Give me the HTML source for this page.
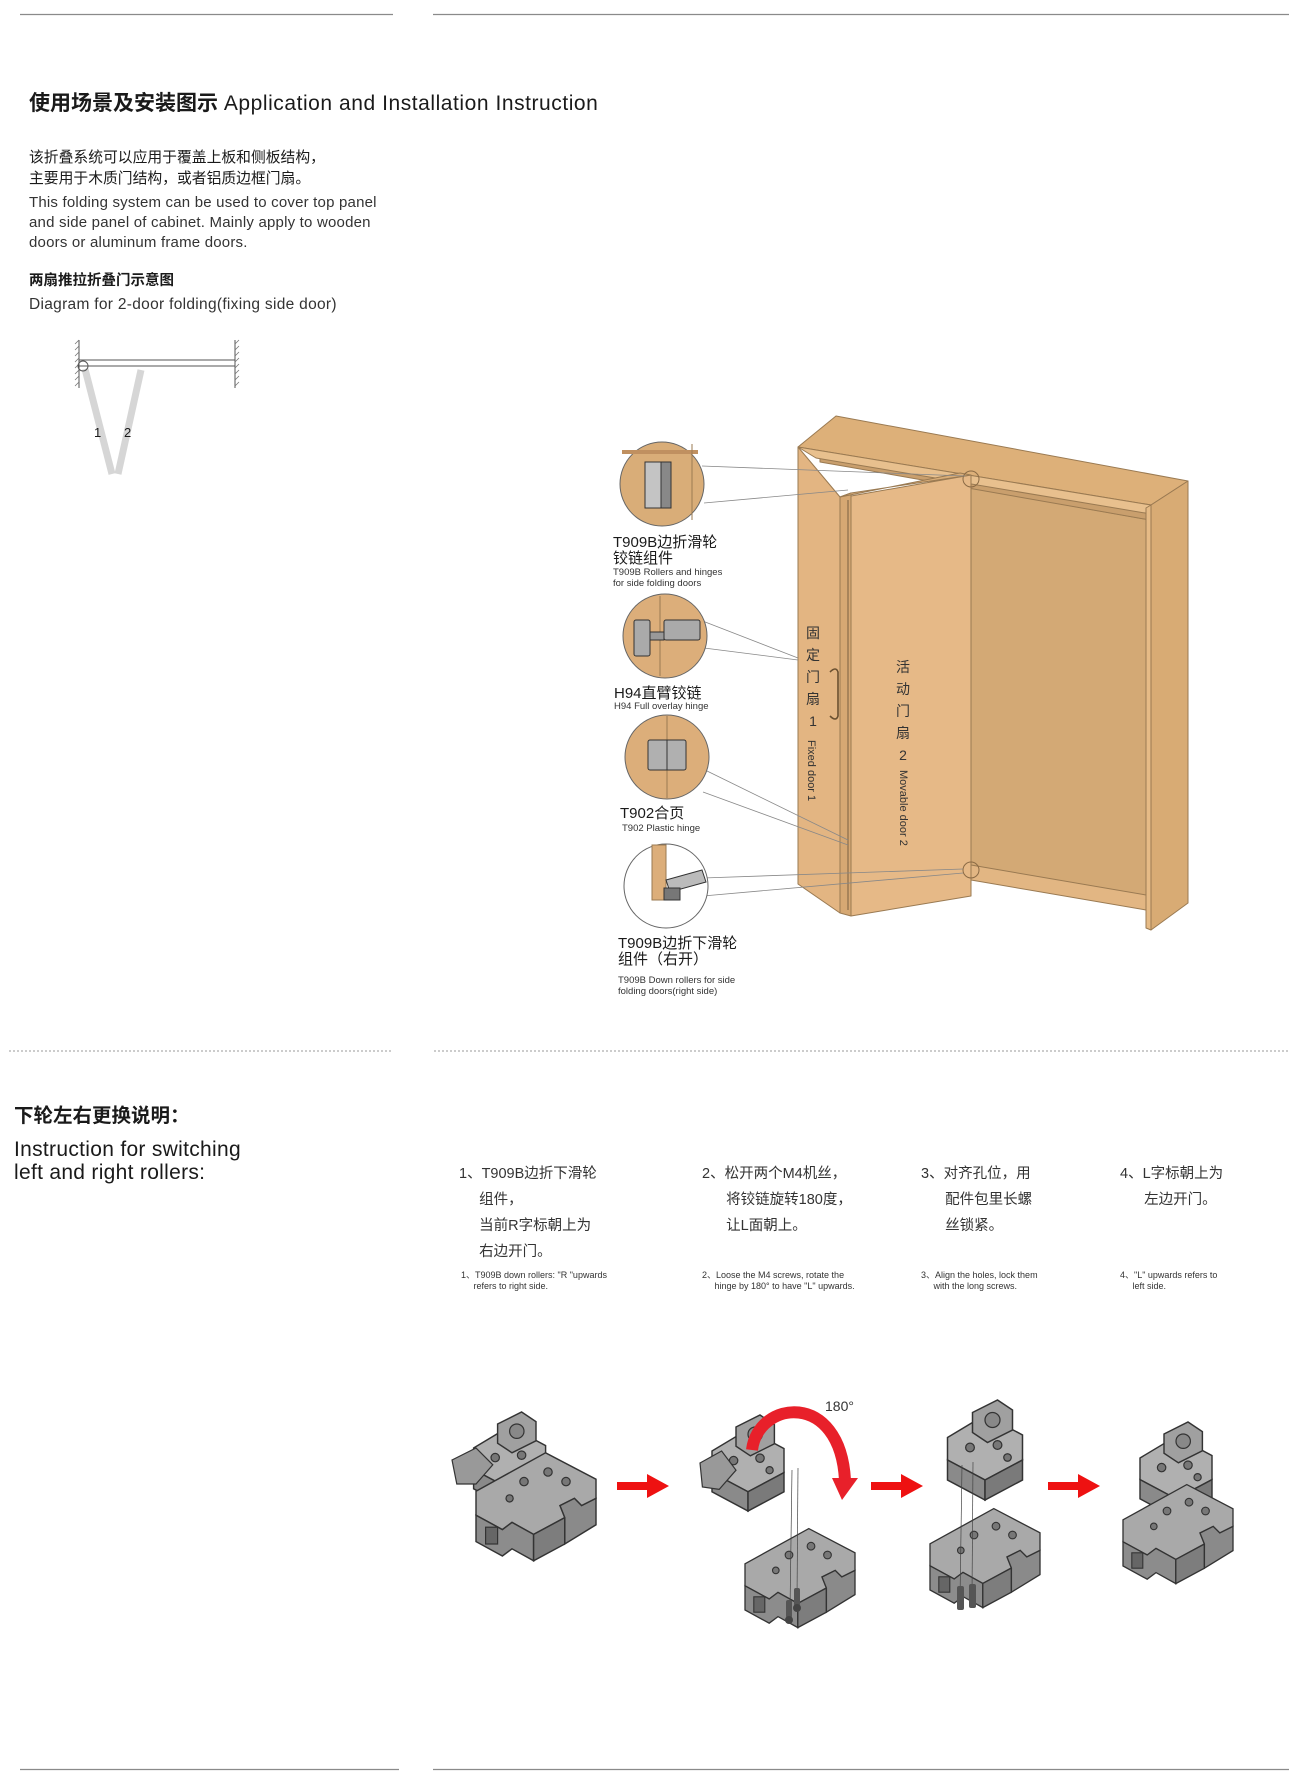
<!DOCTYPE html>
<html><head><meta charset="utf-8"><style>
html,body{margin:0;padding:0;background:#fff;}
body{width:1300px;height:1778px;position:relative;overflow:hidden;font-family:"Liberation Sans","Noto Sans CJK SC",sans-serif;color:#1a1a1a;}
.t{position:absolute;white-space:nowrap;line-height:1;}
svg{position:absolute;left:0;top:0;}
</style></head><body>
<svg width="1300" height="1778" viewBox="0 0 1300 1778">
<defs>
<g id="plate">
 <polygon points="0,38 58,6 100,28 100,44 88,50 82,44 70,50 74,60 48,74 30,64 22,70 0,58" fill="#a9a9a9" stroke="#333" stroke-width="1.2"/>
 <polygon points="0,58 22,70 30,64 48,74 48,96 30,86 22,92 0,80" fill="#8c8c8c" stroke="#333" stroke-width="1.2"/>
 <polygon points="48,74 74,60 74,82 48,96" fill="#7d7d7d" stroke="#333" stroke-width="1.2"/>
 <polygon points="74,60 70,50 82,44 88,50 100,44 100,66 74,82" fill="#8a8a8a" stroke="#333" stroke-width="1.2"/>
 <circle cx="40" cy="30" r="3.5" fill="#777" stroke="#333"/><circle cx="60" cy="22" r="3.5" fill="#777" stroke="#333"/>
 <circle cx="28" cy="44" r="3" fill="#777" stroke="#333"/><circle cx="75" cy="30" r="3.5" fill="#777" stroke="#333"/>
 <rect x="8" y="68" width="10" height="14" fill="#666" stroke="#333"/>
</g>
<g id="hinge">
 <polygon points="10,30 40,12 70,28 70,48 40,64 10,48" fill="#b0b0b0" stroke="#333" stroke-width="1.2"/>
 <polygon points="10,48 40,64 40,80 10,64" fill="#8a8a8a" stroke="#333" stroke-width="1.2"/>
 <polygon points="40,64 70,48 70,64 40,80" fill="#7a7a7a" stroke="#333" stroke-width="1.2"/>
 <polygon points="30,10 50,0 62,8 62,24 42,34 30,26" fill="#a0a0a0" stroke="#333" stroke-width="1.2"/>
 <circle cx="46" cy="16" r="6" fill="#888" stroke="#333"/>
 <circle cx="28" cy="38" r="3.5" fill="#777" stroke="#333"/><circle cx="50" cy="36" r="3.5" fill="#777" stroke="#333"/><circle cx="58" cy="46" r="3" fill="#777" stroke="#333"/>
</g>
<g id="arrow"><polygon points="0,8 30,8 30,0 52,12 30,24 30,16 0,16" fill="#ee1111"/></g>
</defs>

<line x1="20" y1="14.5" x2="393" y2="14.5" stroke="#8a8a8a" stroke-width="1.2"/>
<line x1="433" y1="14.5" x2="1289" y2="14.5" stroke="#8a8a8a" stroke-width="1.2"/>

<g stroke="#555" stroke-width="1">
 <line x1="79" y1="340" x2="79" y2="388"/>
 <line x1="235" y1="340" x2="235" y2="388"/>
 <line x1="79" y1="360" x2="235" y2="360"/>
 <line x1="79" y1="366" x2="235" y2="366"/>
</g>
<g stroke="#777" stroke-width="0.8">
 <path d="M75,344 l4,-4 M75,350 l4,-4 M75,356 l4,-4 M75,362 l4,-4 M75,368 l4,-4 M75,374 l4,-4 M75,380 l4,-4 M75,386 l4,-4"/>
 <path d="M235,344 l4,-4 M235,350 l4,-4 M235,356 l4,-4 M235,362 l4,-4 M235,368 l4,-4 M235,374 l4,-4 M235,380 l4,-4 M235,386 l4,-4"/>
</g>
<line x1="85" y1="369" x2="112" y2="474" stroke="#d6d6d6" stroke-width="7"/>
<line x1="141" y1="370" x2="118" y2="474" stroke="#d6d6d6" stroke-width="7"/>
<circle cx="83" cy="366" r="5" fill="none" stroke="#555"/>

<g stroke="#9a7a52" stroke-width="1" stroke-linejoin="round">
 <polygon points="971,488 1150,520 1150,896 971,872" fill="#d3a975"/>
 <polygon points="820,450 1150,505 1150,520 820,462" fill="#c99f6d"/>
 <polygon points="798,447 836,416 1188,481 1151,505" fill="#ddb079"/>
 <polygon points="798,447 1151,505 1151,514 816,458" fill="#e8c08e"/>
 <polygon points="1151,505 1188,481 1188,903 1151,930" fill="#d8ab74"/>
 <polygon points="1146,508 1151,505 1151,930 1146,928" fill="#e6bb86"/>
 <polygon points="971,865 1146,895 1146,910 971,880" fill="#e2b683"/>
 <polygon points="798,447 840,497 840,913 798,884" fill="#e3b582"/>
 <polygon points="840,497 851,493 851,916 840,913" fill="#d6a873"/>
 <polygon points="851,496 971,475 971,896 851,916" fill="#e6b987"/>
 <polygon points="840,497 851,493 971,475 960,473" fill="#d9ad78"/>
</g>
<line x1="848" y1="500" x2="848" y2="910" stroke="#7a6040" stroke-width="1"/>
<path d="M830,672 q6,-6 8,0 v44 q-2,6 -8,0" fill="none" stroke="#6a5030" stroke-width="1.6"/>
<circle cx="971" cy="479" r="8" fill="none" stroke="#8a6a45"/>
<circle cx="971" cy="870" r="8" fill="none" stroke="#8a6a45"/>

<g stroke="#888" stroke-width="0.8" fill="none">
 <line x1="702" y1="466" x2="965" y2="476"/><line x1="704" y1="503" x2="848" y2="490"/>
 <line x1="700" y1="620" x2="798" y2="658"/><line x1="704" y1="648" x2="798" y2="660"/>
 <line x1="705" y1="770" x2="848" y2="840"/><line x1="703" y1="792" x2="848" y2="845"/>
 <line x1="703" y1="878" x2="963" y2="869"/><line x1="703" y1="896" x2="963" y2="873"/>
</g>
<g stroke="#666" stroke-width="1">
 <circle cx="662" cy="484" r="42" fill="#d9ad78"/>
 <circle cx="665" cy="636" r="42" fill="#dcae7a"/>
 <circle cx="667" cy="757" r="42" fill="#dcae7a"/>
 <circle cx="666" cy="886" r="42" fill="#fff"/>
</g>
<rect x="622" y="450" width="76" height="4" fill="#c09060"/>
<rect x="645" y="462" width="16" height="46" fill="#c4c4c4" stroke="#333"/>
<rect x="661" y="462" width="10" height="46" fill="#888" stroke="#333"/>
<line x1="692" y1="444" x2="692" y2="520" stroke="#9a7a52"/>
<line x1="660" y1="596" x2="660" y2="676" stroke="#9a7a52"/>
<rect x="634" y="620" width="16" height="36" fill="#aaa" stroke="#333" rx="2"/>
<rect x="650" y="632" width="14" height="8" fill="#999" stroke="#333"/>
<rect x="664" y="620" width="36" height="20" fill="#aaa" stroke="#333" rx="2"/>
<line x1="667" y1="716" x2="667" y2="798" stroke="#9a7a52"/>
<rect x="648" y="740" width="38" height="30" fill="#b0b0b0" stroke="#333" rx="2"/>
<line x1="667" y1="740" x2="667" y2="770" stroke="#333"/>
<rect x="652" y="845" width="14" height="55" fill="#dcae7a" stroke="#9a7a52"/>
<polygon points="666,880 702,870 706,882 670,892" fill="#bbb" stroke="#333"/>
<rect x="664" y="888" width="16" height="12" fill="#777" stroke="#333"/>

<line x1="9" y1="1051" x2="393" y2="1051" stroke="#999" stroke-width="1" stroke-dasharray="2,2"/>
<line x1="434" y1="1051" x2="1289" y2="1051" stroke="#999" stroke-width="1" stroke-dasharray="2,2"/>

<g transform="translate(452,1412) scale(1.2)"><use href="#hinge" transform="translate(8,0)"/><use href="#plate" transform="translate(20,28)"/><polygon points="0,40 20,30 34,44 20,60 4,60" fill="#999" stroke="#333"/></g>
<use href="#arrow" transform="translate(617,1474)"/>
<g transform="translate(700,1415) scale(1.2)"><use href="#hinge"/><polygon points="0,40 18,30 30,46 16,62 2,60" fill="#999" stroke="#333"/></g>
<g transform="translate(745,1522) scale(1.1)"><use href="#plate"/></g>
<line x1="792" y1="1470" x2="790" y2="1610" stroke="#444" stroke-width="0.7"/>
<line x1="798" y1="1468" x2="797" y2="1600" stroke="#444" stroke-width="0.7"/>
<rect x="786" y="1600" width="6" height="18" fill="#555" rx="2"/><rect x="794" y="1588" width="6" height="18" fill="#555" rx="2"/>
<circle cx="789" cy="1620" r="4" fill="#444"/><circle cx="797" cy="1608" r="4" fill="#444"/>
<path d="M752,1450 C758,1400 840,1390 845,1480" fill="none" stroke="#e8202a" stroke-width="12"/>
<polygon points="832,1478 858,1478 842,1500" fill="#e8202a"/>
<use href="#arrow" transform="translate(871,1474)"/>
<g transform="translate(935,1400) scale(1.25)"><use href="#hinge"/></g>
<g transform="translate(930,1502) scale(1.1)"><use href="#plate"/></g>
<line x1="962" y1="1465" x2="960" y2="1600" stroke="#444" stroke-width="0.7"/>
<line x1="973" y1="1462" x2="972" y2="1595" stroke="#444" stroke-width="0.7"/>
<rect x="957" y="1586" width="7" height="24" fill="#555" rx="2"/><rect x="969" y="1584" width="7" height="24" fill="#555" rx="2"/>
<use href="#arrow" transform="translate(1048,1474)"/>
<g transform="translate(1128,1422) scale(1.2)"><use href="#hinge"/></g>
<g transform="translate(1123,1478) scale(1.1)"><use href="#plate"/></g>

<line x1="20" y1="1769.5" x2="399" y2="1769.5" stroke="#8a8a8a" stroke-width="1.2"/>
<line x1="433" y1="1769.5" x2="1289" y2="1769.5" stroke="#8a8a8a" stroke-width="1.2"/>
</svg>

<div class="t" style="left:29px;top:93px;font-size:21px;font-weight:bold;">使用场景及安装图示 <span style="font-weight:normal;letter-spacing:0.55px;">Application and Installation Instruction</span></div>
<div class="t" style="left:29px;top:148px;font-size:14.8px;line-height:21px;">该折叠系统可以应用于覆盖上板和侧板结构，<br>主要用于木质门结构，或者铝质边框门扇。</div>
<div class="t" style="left:29px;top:193px;font-size:15px;line-height:20px;color:#333;letter-spacing:0.2px;">This folding system can be used to cover top panel<br>and side panel of cabinet. Mainly apply to wooden<br>doors or aluminum frame doors.</div>
<div class="t" style="left:29px;top:274px;font-size:14.5px;font-weight:bold;">两扇推拉折叠门示意图</div>
<div class="t" style="left:29px;top:297px;font-size:15.5px;color:#333;letter-spacing:0.3px;">Diagram for 2-door folding(fixing side door)</div>
<div class="t" style="left:94px;top:426px;font-size:13px;">1</div>
<div class="t" style="left:124px;top:426px;font-size:13px;">2</div>

<div class="t" style="left:805px;top:622px;font-size:14px;line-height:22px;text-align:center;width:16px;white-space:normal;color:#333;">固定门扇1</div>
<div class="t" style="left:805px;top:740px;font-size:11px;writing-mode:vertical-rl;color:#333;">Fixed door 1</div>
<div class="t" style="left:895px;top:656px;font-size:14px;line-height:22px;text-align:center;width:16px;white-space:normal;color:#333;">活动门扇2</div>
<div class="t" style="left:897px;top:770px;font-size:11px;writing-mode:vertical-rl;color:#333;">Movable door 2</div>

<div class="t" style="left:613px;top:535px;font-size:15px;line-height:16px;">T909B边折滑轮<br>铰链组件</div>
<div class="t" style="left:613px;top:568px;font-size:9.5px;line-height:10.5px;color:#333;">T909B Rollers and hinges<br>for side folding doors</div>
<div class="t" style="left:614px;top:686px;font-size:15px;">H94直臂铰链</div>
<div class="t" style="left:614px;top:702px;font-size:9.5px;color:#333;">H94 Full overlay hinge</div>
<div class="t" style="left:620px;top:806px;font-size:15px;">T902合页</div>
<div class="t" style="left:622px;top:824px;font-size:9.5px;color:#333;">T902 Plastic hinge</div>
<div class="t" style="left:618px;top:936px;font-size:15px;line-height:16px;">T909B边折下滑轮<br>组件（右开）</div>
<div class="t" style="left:618px;top:976px;font-size:9.5px;line-height:10.5px;color:#333;">T909B Down rollers for side<br>folding doors(right side)</div>

<div class="t" style="left:14px;top:1107px;font-size:19.5px;font-weight:bold;">下轮左右更换说明：</div>
<div class="t" style="left:14px;top:1138px;font-size:21px;line-height:23px;letter-spacing:0.3px;">Instruction for switching<br>left and right rollers:</div>

<div class="t" style="left:459px;top:1161px;font-size:14.5px;line-height:26px;color:#333;">1、T909B边折下滑轮<br>&nbsp;&nbsp;&nbsp;&nbsp;&nbsp;组件，<br>&nbsp;&nbsp;&nbsp;&nbsp;&nbsp;当前R字标朝上为<br>&nbsp;&nbsp;&nbsp;&nbsp;&nbsp;右边开门。</div>
<div class="t" style="left:702px;top:1161px;font-size:14.5px;line-height:26px;color:#333;">2、松开两个M4机丝，<br>&nbsp;&nbsp;&nbsp;&nbsp;&nbsp;&nbsp;将铰链旋转180度，<br>&nbsp;&nbsp;&nbsp;&nbsp;&nbsp;&nbsp;让L面朝上。</div>
<div class="t" style="left:921px;top:1161px;font-size:14.5px;line-height:26px;color:#333;">3、对齐孔位，用<br>&nbsp;&nbsp;&nbsp;&nbsp;&nbsp;&nbsp;配件包里长螺<br>&nbsp;&nbsp;&nbsp;&nbsp;&nbsp;&nbsp;丝锁紧。</div>
<div class="t" style="left:1120px;top:1161px;font-size:14.5px;line-height:26px;color:#333;">4、L字标朝上为<br>&nbsp;&nbsp;&nbsp;&nbsp;&nbsp;&nbsp;左边开门。</div>

<div class="t" style="left:461px;top:1270px;font-size:9px;line-height:10.5px;color:#333;">1、T909B down rollers: "R "upwards<br>&nbsp;&nbsp;&nbsp;&nbsp;&nbsp;refers to right side.</div>
<div class="t" style="left:702px;top:1270px;font-size:9px;line-height:10.5px;color:#333;">2、Loose the M4 screws, rotate the<br>&nbsp;&nbsp;&nbsp;&nbsp;&nbsp;hinge by 180° to have "L" upwards.</div>
<div class="t" style="left:921px;top:1270px;font-size:9px;line-height:10.5px;color:#333;">3、Align the holes, lock them<br>&nbsp;&nbsp;&nbsp;&nbsp;&nbsp;with the long screws.</div>
<div class="t" style="left:1120px;top:1270px;font-size:9px;line-height:10.5px;color:#333;">4、"L" upwards refers to<br>&nbsp;&nbsp;&nbsp;&nbsp;&nbsp;left side.</div>
<div class="t" style="left:825px;top:1399px;font-size:14px;color:#333;">180°</div>
</body></html>
